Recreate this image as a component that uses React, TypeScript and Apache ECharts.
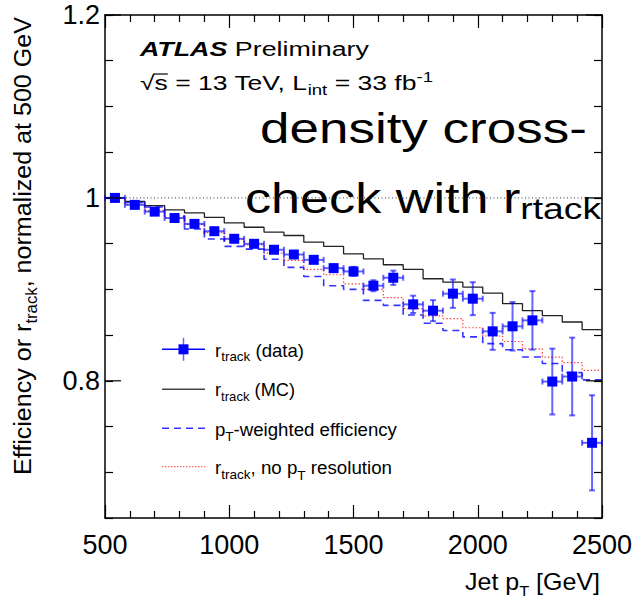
import React, { useEffect, useRef } from 'react';
import * as echarts from 'echarts';

// ---------------- data ----------------
const binCenters = [540, 620, 700, 780, 860, 940, 1020, 1100, 1180, 1260, 1340, 1420, 1500, 1580, 1660, 1740, 1820, 1900, 1980, 2060, 2140, 2220, 2300, 2380, 2460];
const binHalfWidth = 40;
const dataValues = [1.0, 0.9924, 0.985, 0.978, 0.9716, 0.9636, 0.9553, 0.9498, 0.9433, 0.9381, 0.9323, 0.9232, 0.9196, 0.904, 0.9127, 0.8836, 0.8767, 0.8953, 0.8898, 0.8541, 0.8596, 0.8661, 0.7992, 0.8047, 0.7322];
const dataErrors = [0.001, 0.0015, 0.0015, 0.002, 0.002, 0.002, 0.0025, 0.0025, 0.003, 0.003, 0.0035, 0.004, 0.005, 0.006, 0.0078, 0.0095, 0.0115, 0.0155, 0.018, 0.0202, 0.0265, 0.032, 0.036, 0.0425, 0.052];
const mcValues = [1.0, 0.9963, 0.9916, 0.9869, 0.9836, 0.9788, 0.9727, 0.9679, 0.9625, 0.9589, 0.9516, 0.9469, 0.9389, 0.9334, 0.9269, 0.9218, 0.9116, 0.9079, 0.9025, 0.8959, 0.8843, 0.8767, 0.8712, 0.8643, 0.856];
const ptWeightedValues = [1.0, 0.995, 0.99, 0.98, 0.966, 0.955, 0.947, 0.944, 0.933, 0.924, 0.914, 0.904, 0.9, 0.888, 0.8825, 0.872, 0.863, 0.855, 0.848, 0.8407, 0.834, 0.826, 0.819, 0.809, 0.801];
const noResValues = [1.0, 0.993, 0.986, 0.978, 0.971, 0.962, 0.955, 0.9487, 0.9396, 0.9316, 0.9218, 0.916, 0.906, 0.9, 0.891, 0.879, 0.871, 0.868, 0.858, 0.849, 0.843, 0.835, 0.826, 0.82, 0.8115];
const referenceLevel = 1;
const yLabelValues = [0.8, 1.0, 1.2];
const yLabelTexts = ['0.8', '1', '1.2'];
const xMin = 500, xMax = 2500, xStep = 500, xMinorStep = 100;
const yMin = 0.65, yMax = 1.2, yMinorStep = 0.05;

// ---------------- text helpers ----------------
const FONT = '"Liberation Sans", Arial, Helvetica, sans-serif';
type Piece = { t: string; fs: number; dy?: number; bold?: boolean; italic?: boolean; overline?: boolean };
let _ctx: CanvasRenderingContext2D | null = null;
function measure(p: Piece): number {
  if (!_ctx) _ctx = document.createElement('canvas').getContext('2d');
  if (!_ctx) return p.t.length * p.fs * 0.5;
  _ctx.font = `${p.italic ? 'italic ' : ''}${p.bold ? 'bold ' : ''}${p.fs}px ${FONT}`;
  return _ctx.measureText(p.t).width;
}
function textLine(pieces: Piece[], x: number, y: number, opts: { target?: number; align?: 'left' | 'right'; rotation?: number; color?: string } = {}) {
  let cx = 0;
  const items: any[] = [];
  for (const p of pieces) {
    const w = measure(p);
    const dy = p.dy || 0;
    items.push({ x: cx, p, dy, w });
    cx += w;
  }
  const total = cx;
  const shift = opts.align === 'right' ? -total : 0;
  const children: any[] = [];
  for (const it of items) {
    const p: Piece = it.p;
    children.push({
      type: 'text',
      x: it.x + shift,
      y: it.dy - 0.3467 * p.fs,
      style: {
        text: p.t,
        fontSize: p.fs,
        fontFamily: FONT,
        fontWeight: p.bold ? 'bold' : 'normal',
        fontStyle: p.italic ? 'italic' : 'normal',
        fill: opts.color || '#000',
        align: 'left',
        verticalAlign: 'middle',
      },
    });
    if (p.overline) {
      children.push({
        type: 'line',
        shape: { x1: it.x + shift - 1, y1: it.dy - 0.8 * p.fs, x2: it.x + shift + it.w, y2: it.dy - 0.8 * p.fs },
        style: { stroke: '#000', lineWidth: 1.2 },
      });
    }
  }
  const s = opts.target ? opts.target / total : 1;
  return { type: 'group', x, y, rotation: opts.rotation || 0, scaleX: s, scaleY: 1, children };
}

function stepData(values: number[]) {
  const pts: number[][] = values.map((v, i) => [binCenters[i] - binHalfWidth, v]);
  pts.push([binCenters[values.length - 1] + binHalfWidth, values[values.length - 1]]);
  return pts;
}

function legendGraphics() {
  const lx1 = 162, lx2 = 205, lxc = 183.5;
  const rows = [349.3, 389.3, 428.3, 466.7];
  const base = 7.2;
  const tx = 215;
  const fs = 18, sfs = 13, sdy = 5;
  const g: any[] = [];
  g.push({ type: 'line', shape: { x1: lx1, y1: rows[0], x2: lx2, y2: rows[0] }, style: { stroke: '#0000ff', lineWidth: 1.5 } });
  g.push({ type: 'line', shape: { x1: lxc, y1: rows[0] - 11.5, x2: lxc, y2: rows[0] + 11.5 }, style: { stroke: 'rgba(0,0,255,0.6)', lineWidth: 1.5 } });
  g.push({ type: 'rect', shape: { x: lxc - 5, y: rows[0] - 5, width: 10, height: 10 }, style: { fill: '#0000ff' } });
  g.push(textLine([{ t: 'r', fs }, { t: 'track', fs: sfs, dy: sdy }, { t: ' (data)', fs }], tx, rows[0] + base, { target: 89 }));
  g.push({ type: 'line', shape: { x1: lx1, y1: rows[1], x2: lx2, y2: rows[1] }, style: { stroke: '#444', lineWidth: 1.5 } });
  g.push(textLine([{ t: 'r', fs }, { t: 'track', fs: sfs, dy: sdy }, { t: ' (MC)', fs }], tx, rows[1] + base, { target: 80 }));
  g.push({ type: 'line', shape: { x1: lx1, y1: rows[2], x2: lx2, y2: rows[2] }, style: { stroke: 'rgba(0,0,255,0.8)', lineWidth: 1.5, lineDash: [7, 5] } });
  g.push(textLine([{ t: 'p', fs }, { t: 'T', fs: sfs, dy: sdy + 1 }, { t: '-weighted efficiency', fs }], tx, rows[2] + base, { target: 182 }));
  g.push({ type: 'line', shape: { x1: lx1, y1: rows[3], x2: lx2, y2: rows[3] }, style: { stroke: 'rgba(255,0,0,0.75)', lineWidth: 1, lineDash: [1.5, 1.5] } });
  g.push(textLine([{ t: 'r', fs }, { t: 'track', fs: sfs, dy: sdy }, { t: ', no p', fs }, { t: 'T', fs: sfs, dy: sdy + 1 }, { t: ' resolution', fs }], tx, rows[3] + base, { target: 177 }));
  return g;
}

function annotationGraphics() {
  const g: any[] = [];
  g.push(textLine([{ t: 'ATLAS', fs: 20, bold: true, italic: true }, { t: ' Preliminary', fs: 20 }], 140, 56.5, { target: 229 }));
  g.push(textLine([
    { t: '√', fs: 20 }, { t: 's', fs: 20, overline: true }, { t: ' = 13 TeV, L', fs: 20 },
    { t: 'int', fs: 14, dy: 5 }, { t: ' = 33 fb', fs: 20 }, { t: '-1', fs: 14, dy: -8 },
  ], 140, 90, { target: 293 }));
  g.push(textLine([{ t: 'density cross-', fs: 42 }], 260, 143, { target: 327 }));
  g.push(textLine([{ t: 'check with r', fs: 42 }, { t: 'rtack', fs: 30, dy: 6 }], 245, 213, { target: 356 }));
  g.push(textLine([{ t: 'Efficiency or r', fs: 24 }, { t: 'track', fs: 16, dy: 6 }, { t: ', normalized at 500 GeV', fs: 24 }], 31, 475, { rotation: Math.PI / 2, target: 458 }));
  g.push(textLine([{ t: 'Jet p', fs: 23 }, { t: 'T', fs: 15, dy: 6 }, { t: ' [GeV]', fs: 23 }], 600, 590, { align: 'right', target: 135 }));
  return g;
}

function isMajorY(v: number) {
  return yLabelValues.findIndex((m) => Math.abs(m - v) < 1e-6);
}

export default function App() {
  const ref = useRef<HTMLDivElement>(null);
  useEffect(() => {
    if (!ref.current) return;
    const chart = echarts.init(ref.current, undefined, { renderer: 'svg' });
    const axisLine = { show: true, onZero: false, lineStyle: { color: '#000', width: 1.5 } };
    const tickStyle = { color: '#000', width: 1.2 };
    const option: any = {
      animation: false,
      backgroundColor: '#fff',
      grid: { left: 105, right: 37, top: 15, bottom: 85, containLabel: false },
      xAxis: [
        {
          type: 'value', min: xMin, max: xMax, interval: xStep, position: 'bottom',
          axisLine, axisTick: { show: true, inside: true, length: 13, lineStyle: tickStyle },
          minorTick: { show: true, splitNumber: xStep / xMinorStep, length: 7, lineStyle: tickStyle },
          axisLabel: { fontSize: 27, color: '#000', margin: 13, fontFamily: FONT, formatter: (v: number) => String(Math.round(v)) },
          splitLine: { show: false }, minorSplitLine: { show: false },
        },
        {
          type: 'value', min: xMin, max: xMax, interval: xStep, position: 'top',
          axisLine, axisTick: { show: true, inside: true, length: 13, lineStyle: tickStyle },
          minorTick: { show: true, splitNumber: xStep / xMinorStep, length: 7, lineStyle: tickStyle },
          axisLabel: { show: false }, splitLine: { show: false }, minorSplitLine: { show: false },
        },
      ],
      yAxis: [
        {
          type: 'value', min: yMin, max: yMax, interval: yMinorStep, position: 'left',
          axisLine, axisTick: { show: true, inside: true, length: 8, lineStyle: tickStyle },
          axisLabel: {
            fontSize: 27, color: '#000', margin: 5, fontFamily: FONT,
            formatter: (v: number) => { const i = isMajorY(v); return i >= 0 ? yLabelTexts[i] : ''; },
          },
          splitLine: { show: false },
        },
        {
          type: 'value', min: yMin, max: yMax, interval: yMinorStep, position: 'right',
          axisLine, axisTick: { show: true, inside: true, length: 8, lineStyle: tickStyle },
          axisLabel: { show: false }, splitLine: { show: false },
        },
      ],
      series: [
        {
          name: 'reference', type: 'line', data: [[xMin, referenceLevel], [xMax, referenceLevel]],
          showSymbol: false, lineStyle: { color: '#333', width: 1, type: [1, 2.5] }, z: 1, silent: true,
        },
        {
          name: 'r_track (MC)', type: 'line', step: 'end', data: stepData(mcValues), showSymbol: false,
          lineStyle: { color: '#222', width: 1.3 }, z: 2,
        },
        {
          name: 'pT-weighted efficiency', type: 'line', step: 'end', data: stepData(ptWeightedValues), showSymbol: false,
          lineStyle: { color: 'rgba(0,0,255,0.8)', width: 1.6, type: [7, 5] }, z: 3,
        },
        {
          name: 'r_track, no pT resolution', type: 'line', step: 'end', data: stepData(noResValues), showSymbol: false,
          lineStyle: { color: 'rgba(255,0,0,0.75)', width: 1.2, type: [1.5, 2] }, z: 4,
        },
        {
          name: 'errors', type: 'custom', z: 5,
          data: binCenters.map((c, i) => [c, dataValues[i], dataErrors[i]]),
          encode: { x: 0, y: 1 },
          renderItem: (params: any, api: any) => {
            const x = api.value(0), y = api.value(1), e = api.value(2);
            const top = api.coord([x, y + e]);
            const bot = api.coord([x, y - e]);
            const l = api.coord([x - binHalfWidth, y]);
            const r = api.coord([x + binHalfWidth, y]);
            const st = { stroke: 'rgba(0,0,255,0.6)', lineWidth: 2 };
            const cap = 3;
            return {
              type: 'group',
              children: [
                { type: 'line', shape: { x1: top[0], y1: top[1], x2: bot[0], y2: bot[1] }, style: st },
                { type: 'line', shape: { x1: top[0] - cap, y1: top[1], x2: top[0] + cap, y2: top[1] }, style: st },
                { type: 'line', shape: { x1: bot[0] - cap, y1: bot[1], x2: bot[0] + cap, y2: bot[1] }, style: st },
                { type: 'line', shape: { x1: l[0], y1: l[1], x2: r[0], y2: r[1] }, style: st },
                { type: 'line', shape: { x1: l[0], y1: l[1] - cap, x2: l[0], y2: l[1] + cap }, style: st },
                { type: 'line', shape: { x1: r[0], y1: r[1] - cap, x2: r[0], y2: r[1] + cap }, style: st },
              ],
            };
          },
        },
        {
          name: 'r_track (data)', type: 'scatter', symbol: 'rect', symbolSize: 10,
          data: binCenters.map((c, i) => [c, dataValues[i]]),
          itemStyle: { color: '#0000ff', opacity: 1 }, z: 6,
        },
        {
          name: 'majorTicks', type: 'custom', z: 7, silent: true,
          data: yLabelValues.map((v) => [xMin, v]),
          encode: { x: 0, y: 1 },
          renderItem: (params: any, api: any) => {
            const v = api.value(1);
            const a = api.coord([xMin, v]);
            const b = api.coord([xMax, v]);
            const st = { stroke: '#000', lineWidth: 1.2 };
            return {
              type: 'group',
              children: [
                { type: 'line', shape: { x1: a[0], y1: a[1], x2: a[0] + 16, y2: a[1] }, style: st },
                { type: 'line', shape: { x1: b[0], y1: b[1], x2: b[0] - 16, y2: b[1] }, style: st },
              ],
            };
          },
        },
      ],
      graphic: { elements: [...legendGraphics(), ...annotationGraphics()] },
    };
    chart.setOption(option);
    return () => chart.dispose();
  }, []);
  return <div ref={ref} style={{ position: 'fixed', left: 0, top: 0, width: 639, height: 603, background: '#fff' }} />;
}
